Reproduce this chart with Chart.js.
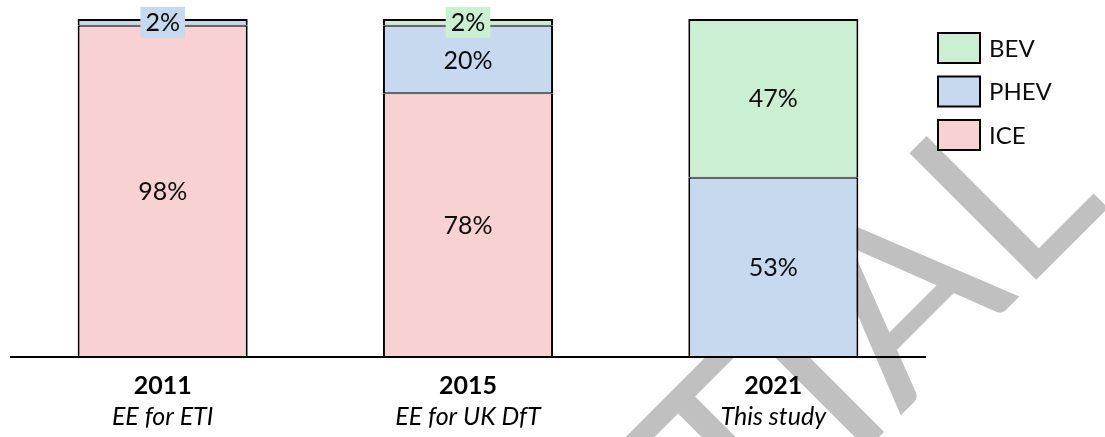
<!DOCTYPE html>
<html>
<head>
<meta charset="utf-8">
<script src="https://cdn.jsdelivr.net/npm/chart.js@4.4.1/dist/chart.umd.min.js"></script>
<style>
  html, body { margin: 0; padding: 0; background: #ffffff; }
  #wrap { width: 1105px; height: 437px; position: relative; }
</style>
</head>
<body>
<div id="wrap"><canvas id="c" width="1105" height="437"></canvas></div>
<script>
// ---- data ----
const categories = ['2011', '2015', '2021'];
const sources = ['EE for ETI', 'EE for UK DfT', 'This study'];
const seriesNames = ['ICE', 'PHEV', 'BEV'];
const iceValues = [98, 78, 0];
const phevValues = [2, 20, 53];
const bevValues = [0, 2, 47];
const seriesColors = ['#f8d2d2', '#c6d9ef', '#caefd2'];
const legendOrder = [2, 1, 0];
const watermarkText = 'CONFIDENTIAL';

const FONT = 'Lato, "Open Sans", "Liberation Sans", sans-serif';

function topIndex(chart, i) {
  let top = -1;
  chart.data.datasets.forEach((ds, d) => { if (ds.data[i] > 0) top = d; });
  return top;
}

const watermarkPlugin = {
  id: 'watermark',
  beforeDatasetsDraw(chart) {
    const ctx = chart.ctx;
    ctx.save();
    ctx.font = '250px ' + FONT;
    ctx.fillStyle = '#c0c0c0';
    const pre = ctx.measureText(watermarkText.slice(0, -1)).width;
    ctx.translate(1020, 296);
    ctx.rotate(-Math.PI / 4);
    ctx.textAlign = 'left';
    ctx.textBaseline = 'alphabetic';
    ctx.fillText(watermarkText, -pre, 0);
    ctx.restore();
  }
};

const decorPlugin = {
  id: 'decor',
  afterDatasetsDraw(chart) {
    const ctx = chart.ctx;
    const area = chart.chartArea;
    // axis line
    ctx.save();
    ctx.strokeStyle = '#000';
    ctx.lineWidth = 2;
    ctx.beginPath();
    ctx.moveTo(area.left, area.bottom);
    ctx.lineTo(area.right, area.bottom);
    ctx.stroke();

    // value labels
    ctx.textAlign = 'center';
    ctx.textBaseline = 'middle';
    ctx.font = '25px ' + FONT;
    chart.data.datasets.forEach((ds, d) => {
      const meta = chart.getDatasetMeta(d);
      meta.data.forEach((el, i) => {
        const v = ds.data[i];
        if (!v) return;
        const cy = (el.y + el.base) / 2;
        const txt = v + '%';
        if (v < 5) {
          const w = ctx.measureText(txt).width + 10;
          const h = 31;
          ctx.fillStyle = ds.backgroundColor;
          ctx.fillRect(el.x - w / 2, cy - h / 2, w, h);
        }
        ctx.fillStyle = '#0d0d0d';
        ctx.fillText(txt, el.x, cy + 1);
      });
    });

    // category labels
    const xs = chart.scales.x;
    categories.forEach((c, i) => {
      const x = xs.getPixelForValue(i);
      ctx.fillStyle = '#000';
      ctx.font = 'bold 25px ' + FONT;
      ctx.fillText(c, x, 386);
      ctx.font = 'italic 25px ' + FONT;
      ctx.fillText(sources[i], x, 417);
    });

    // legend
    ctx.textAlign = 'left';
    ctx.font = '24px ' + FONT;
    legendOrder.forEach((d, k) => {
      const ds = chart.data.datasets[d];
      const y = 33 + k * 43.5;
      ctx.fillStyle = ds.backgroundColor;
      ctx.fillRect(938, y, 42, 30);
      ctx.strokeStyle = '#000';
      ctx.lineWidth = 2;
      ctx.strokeRect(938, y, 42, 30);
      ctx.fillStyle = '#0d0d0d';
      ctx.fillText(ds.label, 989, y + 16);
    });
    ctx.restore();
  }
};

const seriesValues = [iceValues, phevValues, bevValues];
const datasets = seriesNames.map((name, d) => ({
  label: name,
  data: seriesValues[d],
  backgroundColor: seriesColors[d],
  borderColor: '#000',
  borderSkipped: false,
  borderWidth: (ctx) => {
    const v = ctx.raw;
    if (!v) return 0;
    const isTop = topIndex(ctx.chart, ctx.dataIndex) === ctx.datasetIndex;
    return { left: 2, right: 2, top: isTop ? 2 : 1, bottom: ctx.datasetIndex === 0 || (d === 1 && ctx.chart.data.datasets[0].data[ctx.dataIndex] === 0) ? 0 : 1 };
  },
  barPercentage: 0.557,
  categoryPercentage: 1.0
}));

new Chart(document.getElementById('c'), {
  type: 'bar',
  data: { labels: categories, datasets },
  options: {
    responsive: false,
    animation: false,
    layout: { padding: { left: 10, right: 179, top: 19, bottom: 80 } },
    plugins: { legend: { display: false }, tooltip: { enabled: false } },
    scales: {
      x: { stacked: true, display: false },
      y: { stacked: true, display: false, min: 0, max: 100 }
    }
  },
  plugins: [watermarkPlugin, decorPlugin]
});
</script>
</body>
</html>
